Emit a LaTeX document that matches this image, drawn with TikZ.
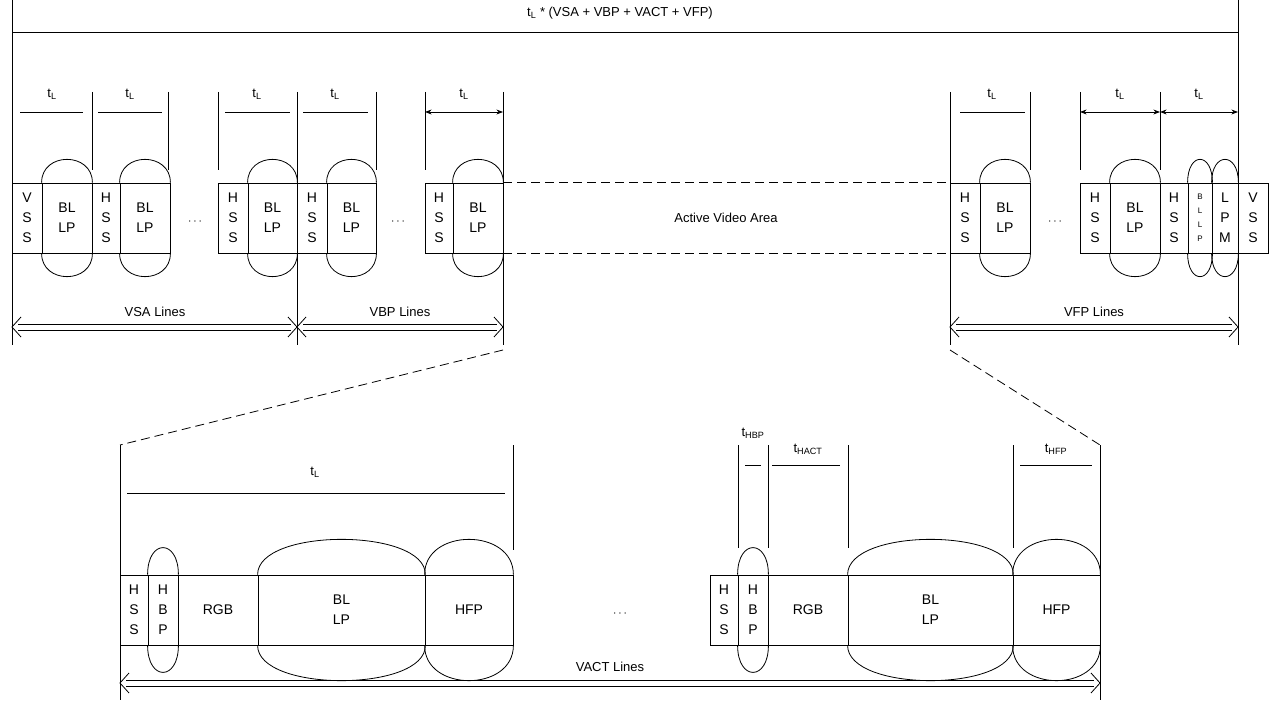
\documentclass[tikz,border=0pt]{standalone}
\usepackage{fontspec}
\setmainfont{Liberation Sans}
\usetikzlibrary{arrows.meta}

\tikzset{
    cell/.style={draw, minimum height=70pt, inner sep=0pt, align=center, font=\fontsize{14}{20}\selectfont},
    lbl/.style={inner sep=1pt, font=\fontsize{13}{15}\selectfont},
    tick/.style={thick},
    dsh/.style={dash pattern=on 9pt off 5pt},
}
\newcommand\lobes[2]{%
    \draw[thick] (#1.north west) .. controls +(0,-#2) and +(0,-#2) .. (#1.north east);
    \draw[thick] (#1.south west) .. controls +(0,#2) and +(0,#2) .. (#1.south east);}
% double-shaft span arrow
\newcommand\dspan[3]{%
    \draw (#1+6,#3-3) -- (#2-6,#3-3);
    \draw (#1+6,#3+3) -- (#2-6,#3+3);
    \draw (#1+9,#3-10) -- (#1,#3) -- (#1+9,#3+10);
    \draw (#2-9,#3-10) -- (#2,#3) -- (#2-9,#3+10);}

\begin{document}
\begin{tikzpicture}[x=1pt, y=-1pt, thick]
    \useasboundingbox (0,0) rectangle (1276,708);
    % Overall span
    \node[lbl] (total) at (620,13) {t\textsubscript{L} * (VSA + VBP + VACT + VFP)};
    \draw (12,32) -- (1238,32);
    \draw (12,0) -- (12,345);
    \draw (1238,0) -- (1238,345);

    % Top row
    \node[cell, minimum width=30pt] (v1) at (27,218) {V\\S\\S};
    \node[cell, minimum width=50pt] (b1) at (67,218) {BL\\LP};
    \node[cell, minimum width=28pt] (h2) at (106,218) {H\\S\\S};
    \node[cell, minimum width=50pt] (b2) at (145,218) {BL\\LP};
    \node[lbl] (d1) at (195,222) {$\cdots$};
    \node[cell, minimum width=30pt] (h3) at (233,218) {H\\S\\S};
    \node[cell, minimum width=49pt] (b3) at (272.5,218) {BL\\LP};
    \node[cell, minimum width=30pt] (h4) at (312,218) {H\\S\\S};
    \node[cell, minimum width=49pt] (b4) at (351.5,218) {BL\\LP};
    \node[lbl] (d2) at (398,222) {$\cdots$};
    \node[cell, minimum width=28pt] (h5) at (439,218) {H\\S\\S};
    \node[cell, minimum width=50pt] (b5) at (478,218) {BL\\LP};
    \node[lbl] (ava) at (726,218) {Active Video Area};
    \node[cell, minimum width=30pt] (h6) at (965,218) {H\\S\\S};
    \node[cell, minimum width=50pt] (b6) at (1005,218) {BL\\LP};
    \node[lbl] (d3) at (1055,222) {$\cdots$};
    \node[cell, minimum width=30pt] (h7) at (1095,218) {H\\S\\S};
    \node[cell, minimum width=50pt] (b7) at (1135,218) {BL\\LP};
    \node[cell, minimum width=28pt] (h8) at (1174,218) {H\\S\\S};
    \node[cell, minimum width=24pt, font=\fontsize{8}{14}\selectfont] (b8) at (1200,218) {B\\L\\L\\P};
    \node[cell, minimum width=26pt] (lpm) at (1225,218) {L\\P\\M};
    \node[cell, minimum width=30pt] (v2) at (1253,218) {V\\S\\S};
    \foreach \n in {b1,b2,b3,b4,b5,b6,b7} {\lobes{\n}{31}}
    \lobes{b8}{31}
    \lobes{lpm}{31}
    \draw[dsh] (b5.north east) -- (h6.north west);
    \draw[dsh] (b5.south east) -- (h6.south west);

    % Line ticks
    \foreach \x in {92,168,218,376,425,1030,1080,1160} {\draw[tick] (\x,92) -- (\x,170);}
    \foreach \x in {297,503,950} {\draw[tick] (\x,92) -- (\x,345);}
    \foreach \a/\b/\m in {20/83/52,98/162/130,225/290/257,303/368/335,960/1025/992} {
        \draw (\a,112) -- (\b,112);
        \node[lbl] at (\m,94) {t\textsubscript{L}};}
    \foreach \a/\b in {425/503,1080/1160,1160/1238} {
        \draw[{Stealth}-{Stealth}] (\a,112) -- (\b,112);
        \node[lbl] at ({(\a+\b)/2},94) {t\textsubscript{L}};}

    % Line spans
    \dspan{12}{297}{327}
    \dspan{297}{503}{327}
    \dspan{950}{1238}{327}
    \node[lbl] (vsa) at (155,312) {VSA Lines};
    \node[lbl] (vbp) at (400,312) {VBP Lines};
    \node[lbl] (vfp) at (1094,312) {VFP Lines};

    % Zoom
    \coordinate (zl) at (120,445);
    \coordinate (zr) at (1100,445);
    \draw[dsh] (503,350) -- (zl);
    \draw[dsh] (950,350) -- (zr);
    \draw (zl) -- (120,700);
    \draw (zr) -- (1100,700);

    % Bottom row
    \node[cell, minimum width=28pt] (hs1) at (134,610) {H\\S\\S};
    \node[cell, minimum width=30pt] (hb1) at (163,610) {H\\B\\P};
    \node[cell, minimum width=80pt] (rgb1) at (218,610) {RGB};
    \node[cell, minimum width=167pt] (bl1) at (341.5,610) {BL\\LP};
    \node[cell, minimum width=88pt] (hfp1) at (469,610) {HFP};
    \node[lbl] (d4) at (620,614) {$\cdots$};
    \node[cell, minimum width=28pt] (hs2) at (724,610) {H\\S\\S};
    \node[cell, minimum width=30pt] (hb2) at (753,610) {H\\B\\P};
    \node[cell, minimum width=80pt] (rgb2) at (808,610) {RGB};
    \node[cell, minimum width=165pt] (bl2) at (930.5,610) {BL\\LP};
    \node[cell, minimum width=87pt] (hfp2) at (1056.5,610) {HFP};
    \lobes{hb1}{36} \lobes{hb2}{36}
    \foreach \n in {bl1,hfp1,bl2,hfp2} {\lobes{\n}{47}}

    % Bottom ticks
    \draw[tick] (513,445) -- (513,550);
    \draw (127,493) -- (505,493);
    \node[lbl] (tl) at (315,472) {t\textsubscript{L}};
    \foreach \x in {738,768,848,1013} {\draw[tick] (\x,445) -- (\x,548);}
    \draw (745,465) -- (761,465);
    \node[lbl] (thbp) at (753,433) {t\textsubscript{HBP}};
    \draw (772,465) -- (840,465);
    \node[lbl] (thact) at (808,449) {t\textsubscript{HACT}};
    \draw (1020,465) -- (1092,465);
    \node[lbl] (thfp) at (1056,449) {t\textsubscript{HFP}};

    \dspan{120}{1100}{683}
    \node[lbl] (vact) at (610,667) {VACT Lines};
\end{tikzpicture}
\end{document}
